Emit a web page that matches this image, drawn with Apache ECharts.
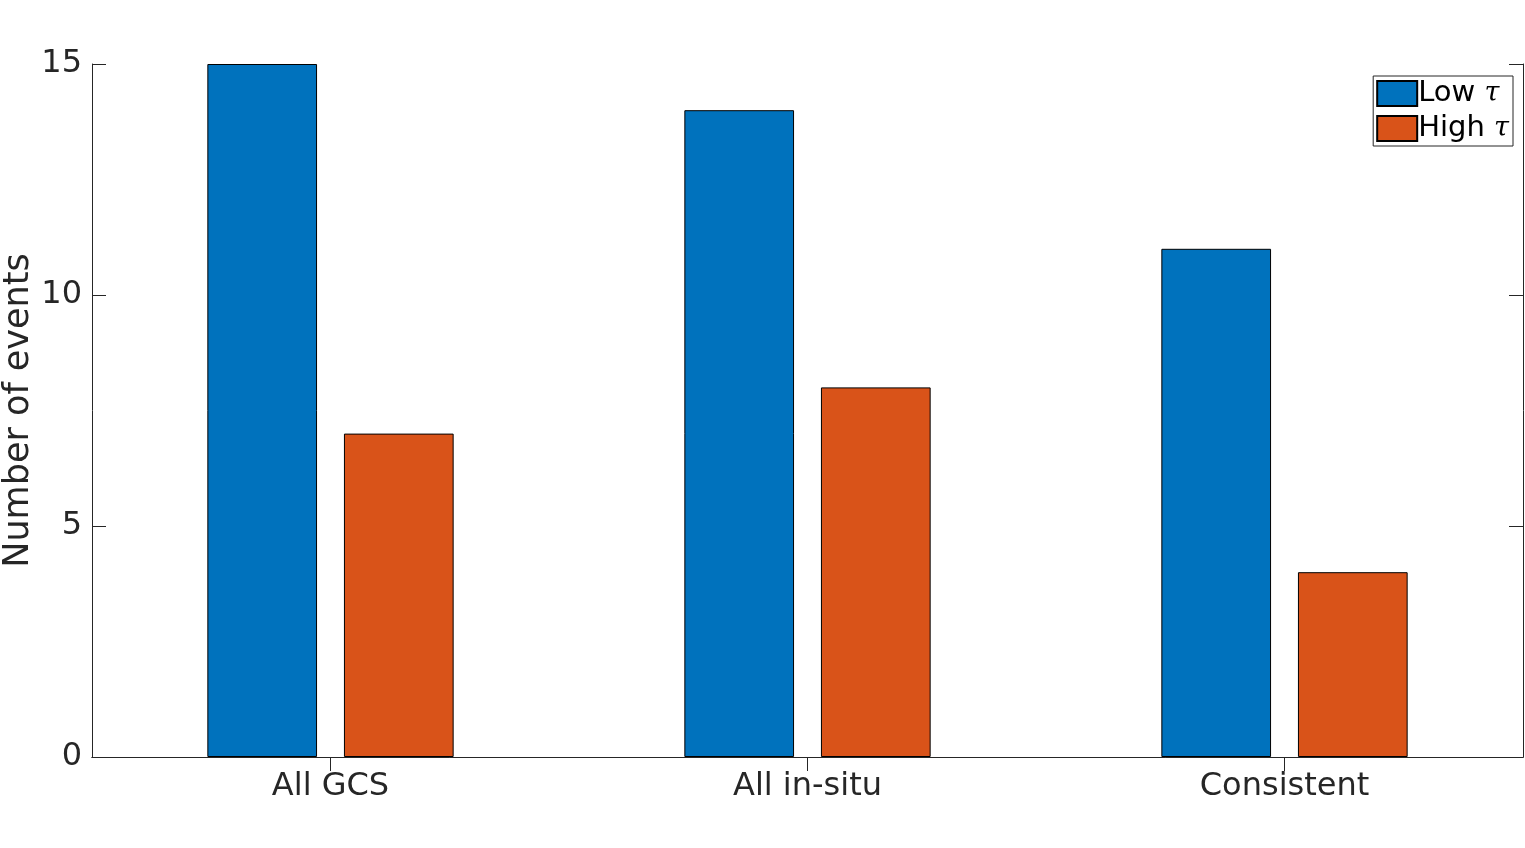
<!DOCTYPE html>
<html>
<head>
<meta charset="utf-8">
<script src="https://cdn.jsdelivr.net/npm/echarts@6/dist/echarts.min.js"></script>
<style>
    html, body { margin: 0; padding: 0; background: #fff; }
    #chart { width: 1525px; height: 848px; }
</style>
</head>
<body>
<div id="chart"></div>
<script>
// chart data
let categories = ["All GCS", "All in-situ", "Consistent"];
let lowTau = [15, 14, 11];
let highTau = [7, 8, 4];
let seriesNames = ["Low τ", "High τ"];

let chart = echarts.init(document.getElementById("chart"));
let axisColor = "#262626";
let font = "DejaVu Sans";

let option = {
    animation: false,
    textStyle: { fontFamily: font },
    grid: { left: 92, right: 2, top: 64, bottom: 91, containLabel: false, outerBoundsMode: "none" },
    legend: {
        data: seriesNames,
        orient: "vertical",
        right: 12,
        top: 76,
        icon: "rect",
        itemWidth: 40,
        itemHeight: 25,
        itemGap: 6,
        padding: [3, 4, 3, 3],
        borderColor: axisColor,
        borderWidth: 1,
        backgroundColor: "#fff",
        borderRadius: 0,
        textStyle: {
            fontSize: 29,
            color: "#000",
            padding: [0, 0, 0, -4],
            rich: {
                t: { fontSize: 27, fontStyle: "italic", fontFamily: "DejaVu Serif", color: "#000" }
            }
        },
        formatter: function(name) {
            return name.replace("τ", "{t|τ}");
        }
    },
    xAxis: [
        {
            type: "category",
            data: categories,
            axisLine: { lineStyle: { color: axisColor, width: 1 } },
            axisTick: { alignWithLabel: true, inside: true, length: 14, lineStyle: { color: axisColor } },
            axisLabel: { fontSize: 32, color: axisColor, margin: 14 }
        },
        {
            type: "category",
            data: categories,
            position: "top",
            axisLine: { lineStyle: { color: axisColor, width: 1 } },
            axisTick: { show: true, interval: 0, alignWithLabel: true, inside: true, length: 14, lineStyle: { color: axisColor } },
            axisLabel: { show: true, interval: 0, color: "rgba(0,0,0,0)", fontSize: 10 }
        }
    ],
    yAxis: [
        {
            type: "value",
            min: 0,
            max: 15,
            interval: 5,
            name: "Number of events",
            nameLocation: "middle",
            nameGap: 56,
            nameMoveOverlap: false,
            nameTextStyle: { fontSize: 35, color: axisColor },
            axisLine: { show: true, lineStyle: { color: axisColor, width: 1 } },
            axisTick: { show: true, inside: true, length: 14, lineStyle: { color: axisColor } },
            axisLabel: { fontSize: 32, color: axisColor, margin: 10 },
            splitLine: { show: false }
        },
        {
            type: "value",
            min: 0,
            max: 15,
            interval: 5,
            position: "right",
            axisLine: { show: true, lineStyle: { color: axisColor, width: 1 } },
            axisTick: { show: true, inside: true, length: 14, lineStyle: { color: axisColor } },
            axisLabel: { show: false },
            splitLine: { show: false }
        }
    ],
    series: [
        {
            name: seriesNames[0],
            type: "bar",
            data: lowTau,
            barWidth: "23%",
            barGap: "24.5%",
            itemStyle: { color: "#0072BD", borderColor: "#000", borderWidth: 1 }
        },
        {
            name: seriesNames[1],
            type: "bar",
            data: highTau,
            barWidth: "23%",
            itemStyle: { color: "#D95319", borderColor: "#000", borderWidth: 1 }
        }
    ]
};
chart.setOption(option, true);
</script>
</body>
</html>
